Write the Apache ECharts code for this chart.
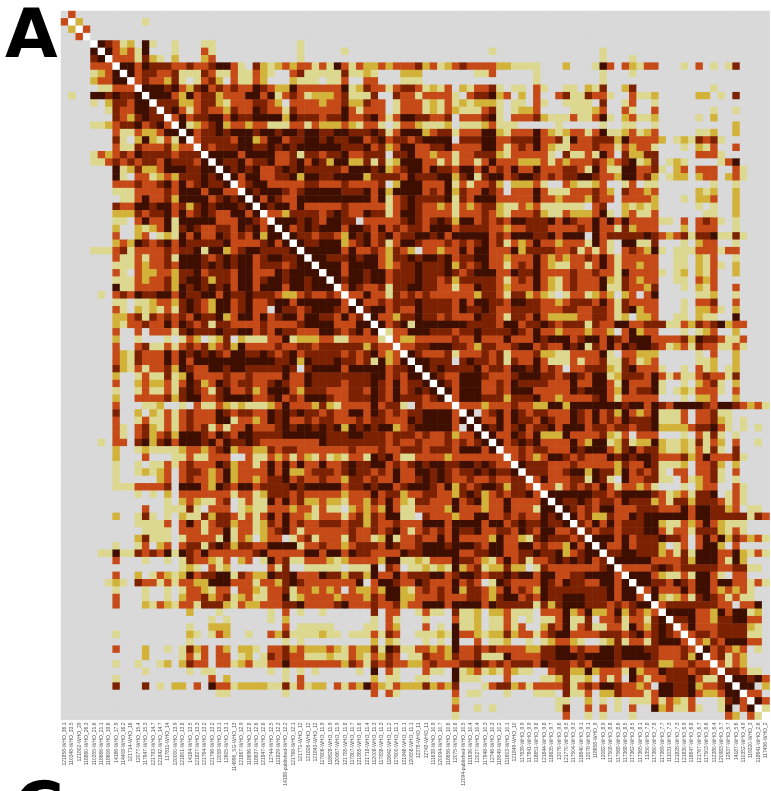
<!DOCTYPE html>
<html><head><meta charset="utf-8">
<style>html,body{margin:0;padding:0;background:#fff}#c{width:771px;height:791px}</style>
<script src="https://cdn.jsdelivr.net/npm/echarts@6/dist/echarts.min.js"></script>
</head><body><div id="c"></div>
<script>
const labels = ["121858-WHO_36.1","110348-WHO_33.5","121802-WHO_29","118860-WHO_26.3","110355-WHO_21.6","118666-WHO_21.1","118606-WHO_19.6","14186-WHO_17.9","114408-WHO_16.2","121714-WHO_16","12077-WHO_15.4","117847-WHO_15.3","121793-WHO_14.7","121842-WHO_14.7","117811-WHO_14","120000-WHO_13.9","121801-WHO_13.8","14184-WHO_13.5","121827-WHO_13.3","121764-WHO_13.2","121796-WHO_13.2","12058-WHO_13.1","12605-WHO_13.1","114996_SG-WHO_13","121867-WHO_12.9","118696-WHO_12.8","118637-WHO_12.6","121847-WHO_12.6","12744-WHO_12.5","111829-WHO_12.3","14188-published-WHO_12.2","121768-WHO_12.1","121771-WHO_12","121826-WHO_12","121843-WHO_12","117606-WHO_11.9","118628-WHO_11.9","120667-WHO_11.9","121785-WHO_11.8","117807-WHO_11.7","121865-WHO_11.6","121718-WHO_11.4","112008-WHO_11.3","117838-WHO_11.3","118642-WHO_11.2","117600-WHO_11.1","121848-WHO_11.1","120658-WHO_11.1","12378-WHO_11","12743-WHO_11","111638-WHO_10.9","120094-WHO_10.7","118656-WHO_10.6","12075-WHO_10.6","12094-published-WHO_10.5","111636-WHO_10.4","12027-WHO_10.4","117848-WHO_10.3","12746-WHO_10.3","118549-WHO_10.2","111603-WHO_10.1","121849-WHO_10","117639-WHO_9.9","117841-WHO_9.9","118651-WHO_9.8","121844-WHO_9.8","118635-WHO_9.7","12076-WHO_9.6","121770-WHO_9.5","117504-WHO_9.3","118640-WHO_9.1","12078-WHO_9.1","118658-WHO_9","12082-WHO_8.9","117508-WHO_8.8","117568-WHO_8.6","117368-WHO_8.5","117362-WHO_8.5","117365-WHO_8.1","11350-WHO_7.8","117360-WHO_7.8","117369-WHO_7.7","111031-WHO_7.3","121828-WHO_7.3","121830-WHO_6.9","118647-WHO_6.8","121767-WHO_6.7","117503-WHO_6.6","112380-WHO_6.4","120983-WHO_5.7","12637-WHO_5.7","14187-WHO_5.6","110352-WHO_4.9","119320-WHO_3","118641-WHO_2.6","117456-WHO_2"];

// levels: 0 none, 1..5 pale to darkest, 6 diagonal.
// The matrix is symmetric, so only cells on or above the diagonal are listed.
// rows 0-31, starting at the diagonal, through column 31
const topLeft = ["03","62000 00000 1","63","6","65431 20510 01000 11","65323 15000 10003 1","63331 42102 00023",
"65535 44433 43345 53104 21232","65344 33411 14311 31132 1003","63433 24101 34203 11320 002","65554 53245 34343 35432 25",
"65553 25344 23335 53513 4","64442 23442 13334 43203","64531 34332 43354 3314","63534 45535 44555 525","65123 45233 23311 13",
"65344 54555 45545 5","63444 43552 35534","64344 45544 5454","65555 35555 334","65445 34453 34","65454 53345 4","65355 33445",
"63455 3333","65455 543","65354 33","65455 3","63324","6555","653","65","6"];
// rows 0-31, columns 32-63
const topMiddle = ["","","","","1","10000 01000 00000 00000 00000 010","1",
"33131 53132 23233 34231 23433 33221 11","41111 14112 10002 22000 00001 13000 00","11101 13003 30001 11000 00000 00000 00",
"33333 35124 33134 43121 30213 34101 11","31222 34111 40043 31333 31034 45230 20","33323 34224 33013 33121 31212 22101 11",
"33333 35313 33013 33121 32111 34101 22","44434 45334 53135 54433 40333 45103 33","31322 23213 31013 32111 20111 23111 01",
"45544 55444 54135 55234 41333 55213 33","45545 44553 45344 34555 50444 55334 44","55555 54445 34235 53344 53333 55313 43",
"14434 45334 44044 53323 31334 44213 33","53542 55224 14125 55331 31331 35333 22","54444 43555 45234 55354 43553 53435 34",
"25544 55552 44443 54445 52451 45534 55","34433 34333 34025 55333 51313 34202 22","45555 54445 35255 55343 52433 54303 33",
"55555 55555 35134 54444 51435 55333 33","53333 34333 33134 54332 31323 44211 33","44434 54335 44135 54333 31333 43213 33",
"45435 54403 33334 54345 42553 43435 53","45455 53554 35343 44355 53444 43323 33","44344 32545 34534 45545 35555 53435 55",
"54455 52345 34135 54333 43434 53413 21"];
// rows 0-31, columns 63-95
const topRight = ["","","","","","00000 00000 1","00000 00000 10001",
"11000 20001 53032 13300 01030 10140 000","01000 00000 10001","01000 00000 1","03100 11021 40024 00000 00000 1",
"03003 41143 31003 11200 00022 01040","03100 11110 40013 001","23000 01112 30031 00300 00000 10010",
"34211 13113 51023 11200 00010 2","00001 00000 10011 00100 00000 00020","35321 23313 51123 12300 00011 20020",
"45334 15334 44253 33320 12143 41","35321 13334 33132 33100 01021 30030","33310 41131 53042 24400 00033 31",
"22313 23334 32345 12401 21000 01350","35333 44315 31155 33410 23033 30031","54343 44554 33255 34201 22023 30231",
"23100 32112 30013 01100 00000 10010","35311 13334 32043 32300 00021 20020","35332 33324 33033 33200 01022 30020",
"23111 11103 40021 21200 00010 10020","34211 32223 51023 11300 00001 10020","44453 54335 35353 33311 03034 31010",
"44433 33435 33142 33300 02033 30010","54453 55505 34444 45432 34144 51141","35332 33315 31055 11400 01023 30010"];
// rows 32-63, starting at the diagonal, through column 63
const midLeft = ["65555 53533 43243 20332 33535 53335 23","65544 45455 32445 45545 34455 33233 3","65553 55553 23445 44452 43453 31343",
"65535 54553 44454 44543 45553 3543","65455 45534 44544 34244 44431 344","63543 34144 55443 31335 44323 33","63353 31434 34333 33324 43144 2",
"65334 34445 44443 53554 43554","64553 43354 44435 44543 3444","65332 44544 34333 54431 444","65345 15555 55544 44355 33",
"61335 55444 34454 44454 3","63223 33334 33533 35333","63344 55544 32443 3455","65433 34133 34341 333","65544 40454 43414 33",
"65454 44453 44355 4","65433 55543 33455","65435 55334 3544","65355 53343 554","63555 44424 44","63332 33343 4","65034 53545",
"65335 3545","65453 455","65335 45","65345 4","63345","6345","655","65","6"];
// rows 32-63, columns 63-95
const midRight = ["44443 34131 31034 32510 11133 31330","35323 23343 53133 33300 11021 30010","35321 13313 53133 23300 11021 31020",
"45333 34334 33153 33310 12021 30020","35321 34333 52143 23300 11032 3","35321 34333 51143 32400 01021 30030",
"23210 13312 32023 03500 00011 20010","44332 34443 53143 33300 01033 40030","44333 44334 43145 23300 01022 31020",
"35322 22334 43120 22300 11021 10050","44543 44414 33553 34441 13243 45233","35332 33323 32035 23300 01012 30020",
"35455 53455 35435 55333 34254 43113","53433 54514 35354 55431 23143 31131","34221 13333 51033 22200 00010 30020",
"35311 13133 41143 12300 00011 20020","45343 03344 42145 33310 01031 20120","55443 45435 51244 43531 31134 33140",
"44433 35335 53153 33510 01023 41020","53333 35455 53253 44510 12133 31030","45332 33334 53133 33300 01022 30020",
"32255 25555 55545 53543 55554 35543 231","34433 35435 34253 23511 13033 41100","43543 35435 34354 44511 13033 42101",
"34453 55534 43443 44522 22344 53101 01","35222 53333 42130 33300 01031 41010","45333 35325 51241 22521 12141 32030 01",
"34433 35455 53245 34421 12131 41040","32355 43433 35454 55433 34235 33341","44433 34333 33243 35411 12033 42020",
"44433 45525 44253 43410 33033 41030","63533 34415 41053 34411 03123 41010"];
// rows 64-95, starting at the diagonal
const lowRight = ["63313 43435 31332 31000 10233 0031","65555 55443 45555 43123 14450 131","65445 43443 54442 31442 44431 31",
"65434 35533 34443 33535 54423 0110","65342 24335 45555 55355 44444 143","64353 53444 55211 32353 2111","64344 34445 53133 14442 131",
"65553 53444 54430 35352 43231","65335 34442 01303 55203","64455 44423 14155 53352 131","65555 53333 42555 3152",
"63333 45434 44443 34411","65553 21131 55310 33","65544 35435 53553 3131","63533 35355 32323 1","65212 31454 31311",
"63444 44443 30335","65555 33253 5512","64453 32445 533","63533 34444 21","63443 44441 1","63243 55533","65343 2301","63413 2",
"63132","64431 1","65545 3","65502","6330","653","61","6"];

const levelColors = ["#d9d9d9","#dcd88f","#d2b238","#c54a17","#7c2203","#3e0f00","#ffffff"];

const N = labels.length;
const grid = Array.from({length:N},()=>new Array(N).fill(0));
function put(rows, firstRow, colOf){
  rows.forEach((s,i)=>{
    const r = firstRow+i, t = s.replace(/\s/g,'');
    for(let k=0;k<t.length;k++){
      const c = colOf(r)+k;
      if(c<N){ grid[r][c]=+t[k]; grid[c][r]=+t[k]; }
    }
  });
}
put(topLeft,0,r=>r); put(topMiddle,0,()=>32); put(topRight,0,()=>63);
put(midLeft,32,r=>r); put(midRight,32,()=>63);
put(lowRight,64,r=>r);
grid[0][0]=0;
const data=[];
for(let r=0;r<N;r++)for(let c=0;c<N;c++)data.push([c,r,grid[r][c]]);

const chart = echarts.init(document.getElementById('c'),null,{renderer:'canvas'});
chart.setOption({
  animation:false,
  backgroundColor:'#fff',
  grid:{left:61,top:11,width:708.5,height:708.5,show:true,backgroundColor:'#d9d9d9',borderWidth:0},
  xAxis:{type:'category',data:labels,axisLine:{show:false},axisTick:{show:false},splitLine:{show:false},
    axisLabel:{rotate:90,interval:0,fontSize:5,margin:3,color:'#555',fontFamily:'"Liberation Sans",Arial,sans-serif'}},
  yAxis:{type:'category',inverse:true,data:labels,axisLine:{show:false},axisTick:{show:false},axisLabel:{show:false},splitLine:{show:false}},
  visualMap:{show:false,type:'piecewise',dimension:2,seriesIndex:0,
    pieces:levelColors.map((col,i)=>({value:i,color:col}))},
  series:[{type:'heatmap',data:data,progressive:0,animation:false,itemStyle:{borderWidth:0},emphasis:{disabled:true}}],
  graphic:[
    {type:'text',left:5,top:5,style:{text:'A',font:'bold 68px "DejaVu Sans"',fill:'#000'}},
    {type:'text',left:14,top:778,style:{text:'C',font:'bold 68px "DejaVu Sans"',fill:'#000'}}
  ]
});
</script></body></html>
